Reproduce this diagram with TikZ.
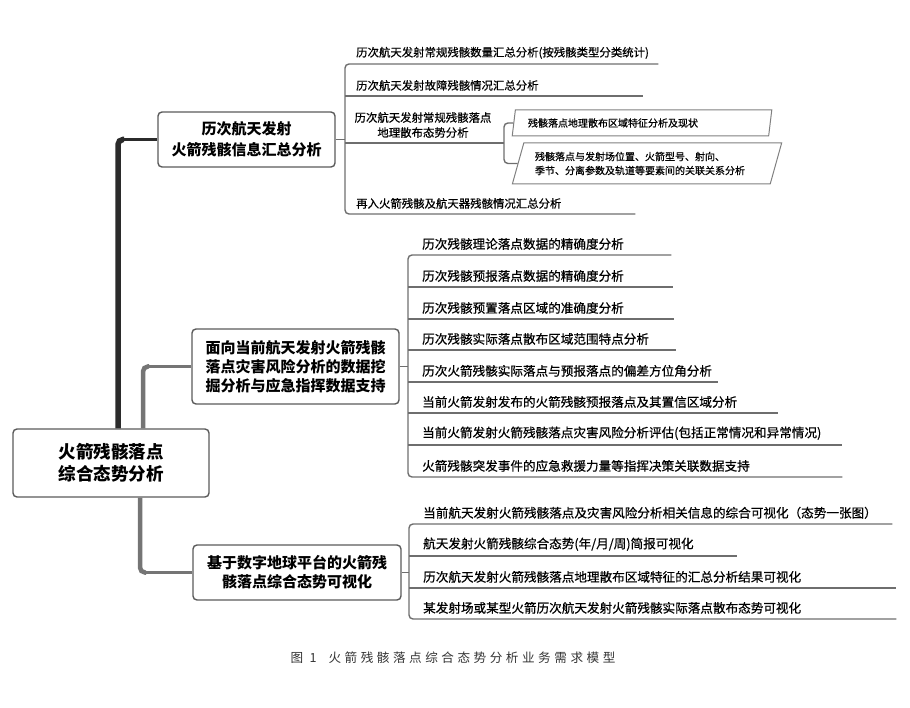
\documentclass[tikz,border=0pt]{standalone}
\usepackage{fontspec}
\setmainfont{Noto Sans CJK SC}
\newfontfamily\leaffont[FakeBold=0.6]{Noto Sans CJK SC}
\newfontfamily\capfont[LetterSpace=28]{Noto Sans CJK SC}
\usetikzlibrary{shapes.geometric,calc}

\definecolor{trunkgray}{HTML}{2B2B2B}
\definecolor{branchgray}{HTML}{757575}
\definecolor{boxgray}{HTML}{5A5A5A}
\definecolor{linegray}{HTML}{6E6E6E}

\tikzset{
	topic/.style={draw=boxgray, line width=1.4pt, rounded corners=4pt, align=center},
	leaf/.style={anchor=south west, inner xsep=0pt, inner ysep=5pt, align=left, text width=#1, font=\leaffont\fontsize{12.6}{15}\selectfont},
	oldleaf/.style={leaf=#1, font=\leaffont\fontsize{11.4}{15}\selectfont},
	link/.style={draw=linegray, line width=1.4pt},
	slant/.style={draw=gray, line width=1pt, trapezium, trapezium stretches=true, align=left, inner sep=0pt, font=\leaffont\fontsize{10}{14}\selectfont},
}

\begin{document}
\begin{tikzpicture}[x=1pt, y=-1pt]
	\useasboundingbox (0,0) rectangle (910,708);

	% topics
	\node[topic, minimum width=196pt, minimum height=68pt, font=\bfseries\fontsize{17.5}{22}\selectfont] (root) at (111,463) {火箭残骸落点\\综合态势分析};
	\node[topic, minimum width=177pt, minimum height=55pt, font=\bfseries\fontsize{15}{21}\selectfont] (hist) at (246.5,139.5) {历次航天发射\\火箭残骸信息汇总分析};
	\node[topic, minimum width=207pt, minimum height=75pt, font=\bfseries\fontsize{15}{19}\selectfont] (mine) at (295.5,366.5) {面向当前航天发射火箭残骸\\落点灾害风险分析的数据挖\\掘分析与应急指挥数据支持};
	\node[topic, minimum width=208pt, minimum height=55pt, font=\bfseries\fontsize{15}{19}\selectfont] (vis) at (297,572.5) {基于数字地球平台的火箭残\\骸落点综合态势可视化};

	% trunk and branches
	\coordinate (t0) at ([xshift=7pt]root.north);
	\coordinate (t1) at ([xshift=32pt]root.north);
	\coordinate (t2) at ([xshift=29pt]root.south);
	\draw[trunkgray, line width=5.5pt, rounded corners=5pt] (t0) |- ($(t0 |- hist.west)+(6,0)$);
	\draw[trunkgray, line width=2.5pt] ($(t0 |- hist.west)+(4,0)$) -- (hist.west);
	\draw[branchgray, line width=4.5pt, rounded corners=5pt] (t1) |- ($(t1 |- mine.west)+(6,0)$);
	\draw[branchgray, line width=2.5pt] ($(t1 |- mine.west)+(4,0)$) -- (mine.west);
	\draw[branchgray, line width=4.5pt, rounded corners=5pt] (t2) |- ($(t2 |- vis.west)+(6,0)$);
	\draw[branchgray, line width=2.5pt] ($(t2 |- vis.west)+(4,0)$) -- (vis.west);

	% first group
	\coordinate (b1) at (345,0);
	\coordinate (sb) at (504,0);
	\node[oldleaf=302pt] (a1) at (356,64) {历次航天发射常规残骸数量汇总分析(按残骸类型分类统计)};
	\node[oldleaf=287pt] (a2) at (356,96) {历次航天发射故障残骸情况汇总分析};
	\node[anchor=south, align=center, inner ysep=5pt, font=\leaffont\fontsize{11.4}{15}\selectfont] (a3) at (423,143) {历次航天发射常规残骸落点\\地理散布态势分析};
	\node[oldleaf=279pt] (a4) at (356,214) {再入火箭残骸及航天器残骸情况汇总分析};
	\node[slant, trapezium left angle=73, trapezium right angle=107, minimum width=260pt, minimum height=26pt, text width=228pt] (p1) at (642,123) {残骸落点地理散布区域特征分析及现状};
	\node[slant, trapezium left angle=66, trapezium right angle=114, minimum width=270pt, minimum height=41pt, text width=224pt] (p2) at (647,163.5) {残骸落点与发射场位置、火箭型号、射向、\\季节、分离参数及轨道等要素间的关联关系分析};

	\draw[link] (hist.east) -- (hist.east -| b1);
	\draw[link, rounded corners=4pt] (a1.south east) -- (a1.south west -| b1) -- (a4.south west -| b1) -- (a4.south east);
	\draw[link] (b1 |- a2.south) -- (a2.south east);
	\draw[link] (b1 |- a3.south) -- (sb |- a3.south);
	\draw[link, rounded corners=4pt] (p1.left side) -- (p1.left side -| sb) -- (p2.left side -| sb) -- (p2.left side);

	% second group
	\coordinate (b2) at (408,0);
	\node[leaf=249pt] (m1) at (422,255) {历次残骸理论落点数据的精确度分析};
	\node[leaf=251pt] (m2) at (422,287) {历次残骸预报落点数据的精确度分析};
	\node[leaf=252pt] (m3) at (422,319) {历次残骸预置落点区域的准确度分析};
	\node[leaf=254pt] (m4) at (422,350) {历次残骸实际落点散布区域范围特点分析};
	\node[leaf=296pt] (m5) at (422,382) {历次火箭残骸实际落点与预报落点的偏差方位角分析};
	\node[leaf=356pt] (m6) at (422,413) {当前火箭发射发布的火箭残骸预报落点及其置信区域分析};
	\node[leaf=420pt] (m7) at (422,445) {当前火箭发射火箭残骸落点灾害风险分析评估(包括正常情况和异常情况)};
	\node[leaf=420pt] (m8) at (422,477) {火箭残骸突发事件的应急救援力量等指挥决策关联数据支持};

	\draw[link] (mine.east) -- (mine.east -| b2);
	\draw[link, rounded corners=4pt] (m1.south east) -- (m1.south west -| b2) -- (m8.south west -| b2) -- (m8.south east);
	\foreach \n in {m2,m3,m4,m5,m6,m7}
		\draw[link] (b2 |- \n.south) -- (\n.south east);

	% third group
	\coordinate (b3) at (409,0);
	\node[leaf=469pt] (v1) at (423,524) {当前航天发射火箭残骸落点及灾害风险分析相关信息的综合可视化（态势一张图）};
	\node[leaf=314pt] (v2) at (423,556) {航天发射火箭残骸综合态势(年/月/周)简报可视化};
	\node[leaf=473pt] (v3) at (423,588) {历次航天发射火箭残骸落点地理散布区域特征的汇总分析结果可视化};
	\node[leaf=473pt] (v4) at (423,619) {某发射场或某型火箭历次航天发射火箭残骸实际落点散布态势可视化};

	\draw[link] (vis.east) -- (vis.east -| b3);
	\draw[link, rounded corners=4pt] (v1.south east) -- (v1.south west -| b3) -- (v4.south west -| b3) -- (v4.south east);
	\foreach \n in {v2,v3}
		\draw[link] (b3 |- \n.south) -- (\n.south east);

	% caption
	\node[font=\capfont\fontsize{12.6}{14}\selectfont, text=black!80] (cap) at (453,658) {图 1\hspace{12pt}火箭残骸落点综合态势分析业务需求模型};
\end{tikzpicture}
\end{document}
